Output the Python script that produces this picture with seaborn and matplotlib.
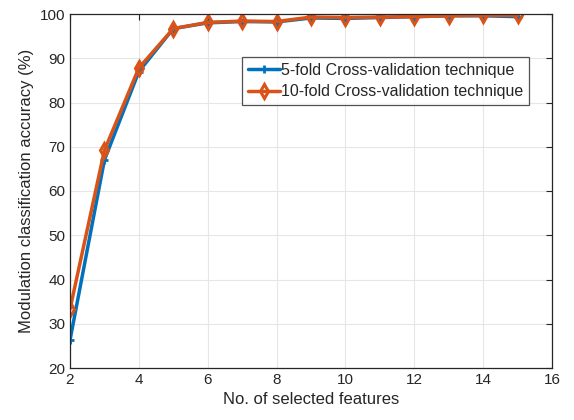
import matplotlib
matplotlib.use("Agg")
import matplotlib.pyplot as plt
import seaborn as sns
import pandas as pd

features = [2, 3, 4, 5, 6, 7, 8, 9, 10, 11, 12, 13, 14, 15]
acc_5fold = [26.3, 67.0, 87.0, 96.7, 98.0, 98.3, 98.2, 99.1, 99.0, 99.2, 99.4, 99.6, 99.6, 99.4]
acc_10fold = [33.3, 69.2, 87.8, 96.7, 98.1, 98.4, 98.3, 99.3, 99.2, 99.3, 99.4, 99.6, 99.7, 99.7]
label_5 = "5-fold Cross-validation technique"
label_10 = "10-fold Cross-validation technique"

df5 = pd.DataFrame({"x": features, "y": acc_5fold})
df10 = pd.DataFrame({"x": features, "y": acc_10fold})

sns.set_style("white")
plt.rcParams["font.family"] = ["Liberation Sans", "DejaVu Sans"]

fig = plt.figure(figsize=(5.74, 4.2), dpi=100)
ax = fig.add_axes([70 / 574, 1 - 368 / 420, 482 / 574, 354 / 420])

sns.lineplot(data=df5, x="x", y="y", color="#0072BD", marker="+", markersize=6,
             markeredgewidth=2.0, markeredgecolor="#0072BD", markerfacecolor="#0072BD",
             linewidth=2.5, label=label_5, ax=ax)
sns.lineplot(data=df10, x="x", y="y", color="#D95319", marker="d", markersize=7,
             markeredgewidth=2.2, markerfacecolor="none", markeredgecolor="#D95319",
             linewidth=2.5, label=label_10, ax=ax)

ax.set_xlim(2, 16)
ax.set_ylim(20, 100)
ax.set_xticks(range(2, 17, 2))
ax.set_yticks(range(20, 101, 10))
ax.grid(True, color="#e6e6e6", linewidth=0.8)
for s in ax.spines.values():
    s.set_color("#262626")
    s.set_linewidth(0.9)
ax.tick_params(axis="both", direction="in", length=4, labelsize=11, colors="#262626", width=0.8,
               top=True, right=True)
ax.set_xlabel("No. of selected features", fontsize=12, color="#262626")
ax.set_ylabel("Modulation classification accuracy (%)", fontsize=12, color="#262626")

leg = ax.legend(loc="upper left", bbox_to_anchor=(0.357, 0.878), fontsize=11.5,
                frameon=True, fancybox=False, edgecolor="#262626",
                handlelength=2.0, borderpad=0.35, labelspacing=0.4, handletextpad=0.1,
                borderaxespad=0)
leg.get_frame().set_linewidth(0.9)

fig.savefig("out.png", dpi=100)
